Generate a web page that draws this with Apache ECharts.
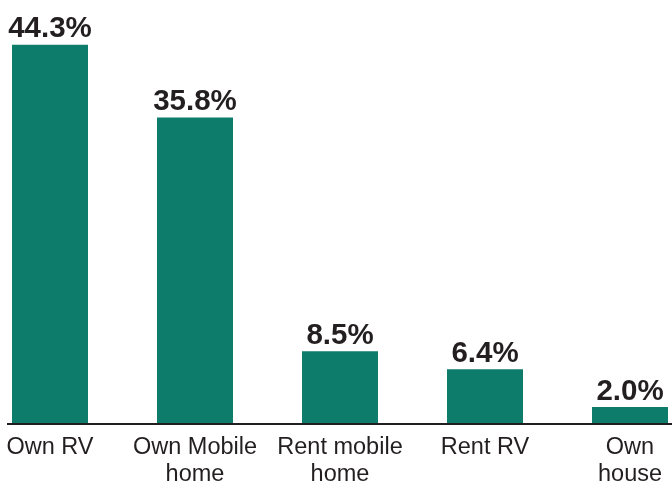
<!DOCTYPE html>
<html>
<head>
<meta charset="utf-8">
<script src="https://cdn.jsdelivr.net/npm/echarts@6/dist/echarts.min.js"></script>
<style>
  html, body { margin: 0; padding: 0; background: #fff; }
  #chart { width: 672px; height: 485px; }
</style>
</head>
<body>
<div id="chart"></div>
<script>
const categories = ['Own RV', 'Own Mobile\nhome', 'Rent mobile\nhome', 'Rent RV', 'Own\nhouse']
const shares = [44.3, 35.8, 8.5, 6.4, 2.0]

const chart = echarts.init(document.getElementById('chart'))
chart.setOption({
  animation: false,
  grid: { left: -22.5, width: 725, top: -4, bottom: 61, containLabel: false, outerBoundsMode: 'none' },
  xAxis: {
    type: 'category',
    data: categories,
    axisLine: { show: false },
    axisTick: { show: false },
    axisLabel: {
      color: '#231f20', fontFamily: 'Liberation Sans, Arial, sans-serif',
      fontSize: 23.5, lineHeight: 27, margin: 10, interval: 0
    }
  },
  yAxis: { type: 'value', min: 0, max: 50, show: false, splitLine: { show: false } },
  series: [{
    type: 'bar',
    data: shares,
    barWidth: 76,
    itemStyle: { color: '#0e7c6b' },
    label: {
      show: true, position: 'top', distance: 1,
      color: '#231f20', fontFamily: 'Liberation Sans, Arial, sans-serif',
      fontSize: 29.5, fontWeight: 'bold', lineHeight: 29,
      formatter: p => p.value.toFixed(1) + '%'
    }
  }],
  graphic: [{
    type: 'rect', left: 7, top: 423, z: 10,
    shape: { width: 665, height: 2 },
    style: { fill: '#231f20' }
  }]
})
</script>
</body>
</html>
